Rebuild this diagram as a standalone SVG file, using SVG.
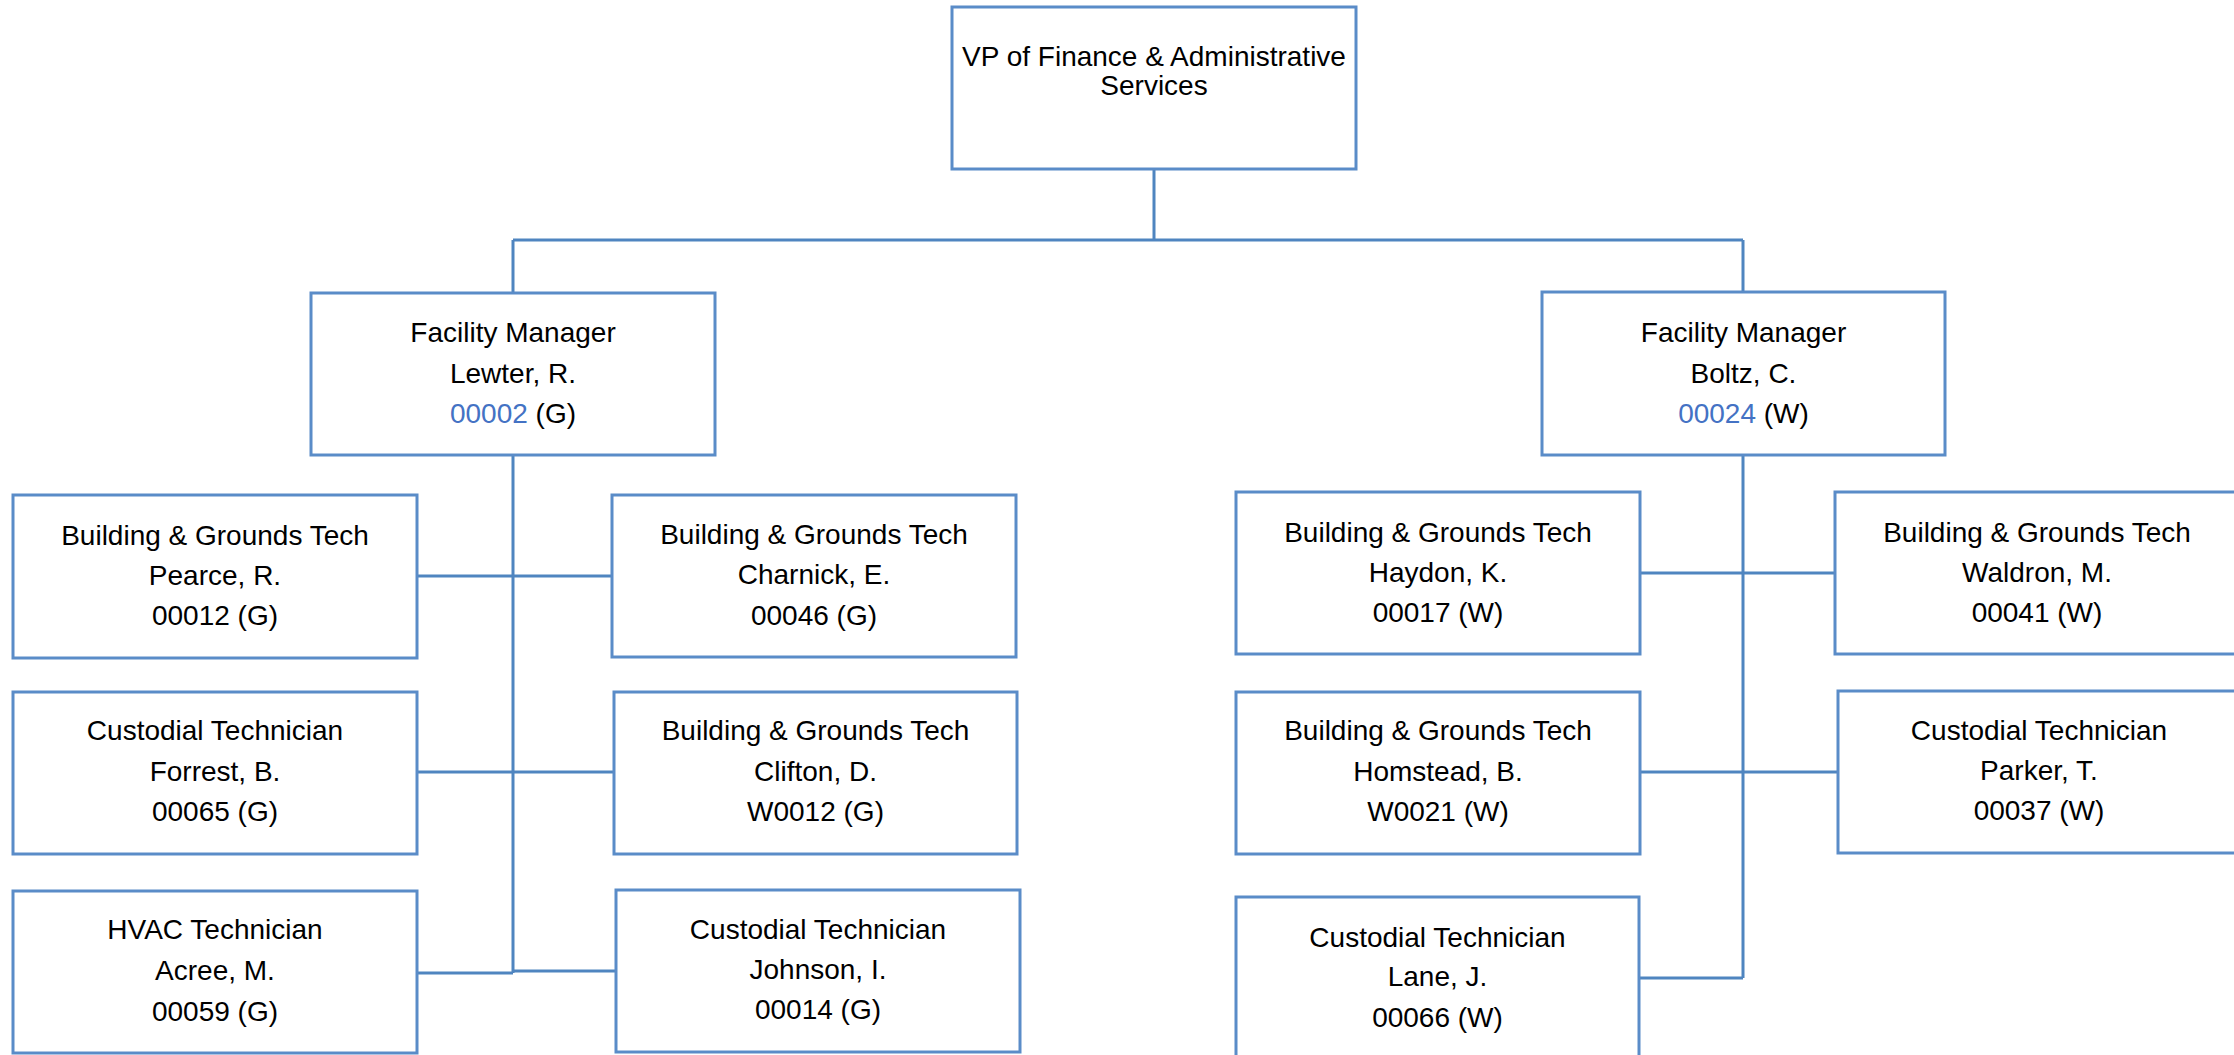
<svg xmlns="http://www.w3.org/2000/svg" width="2234" height="1055" viewBox="0 0 2234 1055">
<style>
.box{fill:#fff;stroke:#5A8CC8;stroke-width:3}
.t{font-family:"Liberation Sans",Arial,sans-serif;font-size:28px;fill:#000;text-anchor:middle}
.id{fill:#4472C4}
.c{fill:none;stroke:#4F85C0;stroke-width:3}
</style>
<rect width="2234" height="1055" fill="#fff"/>
<g id="connectors">
<path class="c" d="M1154 169V240M513 240H1743M513 240V293M1743 240V292"/>
<path class="c" d="M513 455V973M417 576H612M417 772H614M417 973H513M513 971H616"/>
<path class="c" d="M1743 455V978M1640 573H1835M1640 772H1838M1639 978H1743"/>
</g>
<g id="vp">
<rect class="box" x="952" y="7" width="404" height="162"/>
<text class="t" x="1154" y="66">VP of Finance &amp; Administrative</text>
<text class="t" x="1154" y="95">Services</text>
</g>
<g id="lewter">
<rect class="box" x="311" y="293" width="404" height="162"/>
<text class="t" x="513" y="342">Facility Manager</text>
<text class="t" x="513" y="383">Lewter, R.</text>
<text class="t" x="513" y="423"><tspan class="id">00002</tspan> (G)</text>
</g>
<g id="boltz">
<rect class="box" x="1542" y="292" width="403" height="163"/>
<text class="t" x="1743.5" y="342">Facility Manager</text>
<text class="t" x="1743.5" y="383">Boltz, C.</text>
<text class="t" x="1743.5" y="423"><tspan class="id">00024</tspan> (W)</text>
</g>
<g id="pearce">
<rect class="box" x="13" y="495" width="404" height="163"/>
<text class="t" x="215" y="545">Building &amp; Grounds Tech</text>
<text class="t" x="215" y="585">Pearce, R.</text>
<text class="t" x="215" y="625">00012 (G)</text>
</g>
<g id="charnick">
<rect class="box" x="612" y="495" width="404" height="162"/>
<text class="t" x="814" y="544">Building &amp; Grounds Tech</text>
<text class="t" x="814" y="584">Charnick, E.</text>
<text class="t" x="814" y="625">00046 (G)</text>
</g>
<g id="haydon">
<rect class="box" x="1236" y="492" width="404" height="162"/>
<text class="t" x="1438" y="542">Building &amp; Grounds Tech</text>
<text class="t" x="1438" y="582">Haydon, K.</text>
<text class="t" x="1438" y="622">00017 (W)</text>
</g>
<g id="waldron">
<rect class="box" x="1835" y="492" width="404" height="162"/>
<text class="t" x="2037" y="542">Building &amp; Grounds Tech</text>
<text class="t" x="2037" y="582">Waldron, M.</text>
<text class="t" x="2037" y="622">00041 (W)</text>
</g>
<g id="forrest">
<rect class="box" x="13" y="692" width="404" height="162"/>
<text class="t" x="215" y="740">Custodial Technician</text>
<text class="t" x="215" y="781">Forrest, B.</text>
<text class="t" x="215" y="821">00065 (G)</text>
</g>
<g id="clifton">
<rect class="box" x="614" y="692" width="403" height="162"/>
<text class="t" x="815.5" y="740">Building &amp; Grounds Tech</text>
<text class="t" x="815.5" y="781">Clifton, D.</text>
<text class="t" x="815.5" y="821">W0012 (G)</text>
</g>
<g id="homstead">
<rect class="box" x="1236" y="692" width="404" height="162"/>
<text class="t" x="1438" y="740">Building &amp; Grounds Tech</text>
<text class="t" x="1438" y="781">Homstead, B.</text>
<text class="t" x="1438" y="821">W0021 (W)</text>
</g>
<g id="parker">
<rect class="box" x="1838" y="691" width="402" height="162"/>
<text class="t" x="2039" y="740">Custodial Technician</text>
<text class="t" x="2039" y="780">Parker, T.</text>
<text class="t" x="2039" y="820">00037 (W)</text>
</g>
<g id="acree">
<rect class="box" x="13" y="891" width="404" height="162"/>
<text class="t" x="215" y="939">HVAC Technician</text>
<text class="t" x="215" y="980">Acree, M.</text>
<text class="t" x="215" y="1021">00059 (G)</text>
</g>
<g id="johnson">
<rect class="box" x="616" y="890" width="404" height="162"/>
<text class="t" x="818" y="939">Custodial Technician</text>
<text class="t" x="818" y="979">Johnson, I.</text>
<text class="t" x="818" y="1019">00014 (G)</text>
</g>
<g id="lane">
<rect class="box" x="1236" y="897" width="403" height="170"/>
<text class="t" x="1437.5" y="947">Custodial Technician</text>
<text class="t" x="1437.5" y="986">Lane, J.</text>
<text class="t" x="1437.5" y="1027">00066 (W)</text>
</g>
</svg>
